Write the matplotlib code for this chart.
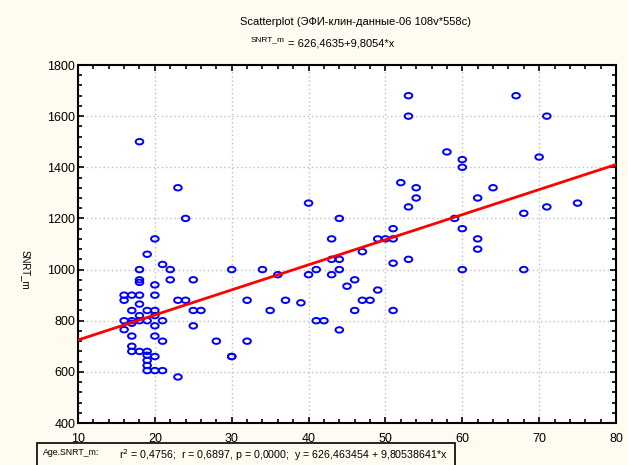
import numpy as np
import matplotlib
matplotlib.use("Agg")
import matplotlib.pyplot as plt
from matplotlib.ticker import MultipleLocator
from matplotlib.path import Path
from matplotlib.transforms import Affine2D
from matplotlib.patches import Rectangle

plt.rcParams["font.family"] = ["Liberation Sans", "DejaVu Sans"]

# Age vs SNRT_m
age = [18, 23, 24, 20, 19, 21, 18, 22, 30, 18, 18, 20, 22, 25,
       16, 16, 17, 18, 20, 18, 23, 24, 17, 19, 20, 25, 26, 18, 20,
       17, 17, 18, 19, 20, 21, 16, 16, 25, 17, 20, 21, 28, 17, 17,
       18, 19, 19, 20, 19, 30, 19, 19, 20, 21, 23,
       40, 44, 43, 49, 50, 51, 51, 47, 43, 44, 51, 34, 41, 44, 36,
       40, 43, 46, 45, 49, 32, 37, 47, 48, 35, 39, 46, 51, 41, 42,
       44, 32, 30,
       53, 67, 53, 71, 58, 60, 60, 70, 52, 54, 54, 64, 62, 53, 71,
       75, 68, 59, 60, 62, 62, 53, 60, 68]
snrt = [1500, 1320, 1200, 1120, 1060, 1020, 1000, 1000, 1000, 960, 950, 940, 960, 960,
        900, 880, 900, 900, 900, 865, 880, 880, 840, 840, 840, 840, 840, 820, 820,
        800, 790, 800, 800, 780, 800, 800, 765, 780, 740, 740, 720, 720, 700, 680,
        680, 680, 665, 660, 645, 660, 625, 605, 605, 605, 580,
        1260, 1200, 1120, 1120, 1120, 1120, 1160, 1070, 1040, 1040, 1025, 1000, 1000, 1000, 980,
        980, 980, 960, 935, 920, 880, 880, 880, 880, 840, 870, 840, 840, 800, 800,
        764, 720, 660,
        1680, 1680, 1600, 1600, 1460, 1430, 1400, 1440, 1340, 1320, 1280, 1320, 1280, 1245, 1245,
        1260, 1220, 1200, 1160, 1120, 1080, 1040, 1000, 1000]

intercept, slope = 626.4635, 9.8054
x_ticks = [10, 20, 30, 40, 50, 60, 70, 80]
y_ticks = [400, 600, 800, 1000, 1200, 1400, 1600, 1800]

bg = "#FFFBF0"
fig = plt.figure(figsize=(6.28, 4.65), dpi=100, facecolor=bg)
ax = fig.add_axes([78 / 628, 1 - 423 / 465, (616 - 78) / 628, (423 - 65) / 465])
ax.set_facecolor("white")

oval = Path.unit_circle().transformed(Affine2D().scale(1, 0.72))
ax.scatter(age, snrt, marker=oval, s=30, facecolors="none",
           edgecolors="#0000FF", linewidths=1.4, zorder=3)

xl = np.array([10, 80])
ax.plot(xl, intercept + slope * xl, color="#FF0000", lw=2, zorder=4)

ax.set_xlim(10, 80)
ax.set_ylim(400, 1800)
ax.set_xticks(x_ticks)
ax.set_yticks(y_ticks)
ax.xaxis.set_minor_locator(MultipleLocator(2))
ax.yaxis.set_minor_locator(MultipleLocator(40))
ax.tick_params(which="both", direction="in", top=True, right=True,
               labelsize=9, color="black", width=1.2)
ax.tick_params(which="major", length=4)
ax.tick_params(which="minor", length=3)
ax.tick_params(axis="x", which="major", pad=7)
ax.tick_params(axis="y", which="major", pad=2)
ax.grid(True, which="major", ls=(0, (1, 2)), color="#BFBFBF", lw=1)
for s in ax.spines.values():
    s.set_linewidth(1.5)

fig.text(25 / 628, 1 - 270 / 465, "SNRT_m", rotation=-90, fontsize=7,
         ha="center", va="center")

fig.text(356 / 628, 1 - 22 / 465, "Scatterplot (ЭФИ-клин-данные-06 108v*558c)",
         fontsize=8, ha="center", va="center")
fig.text(285 / 628, 1 - 40 / 465, "SNRT_m", fontsize=6, ha="right", va="center")
fig.text(288 / 628, 1 - 44 / 465, "= 626,4635+9,8054*x", fontsize=8,
         ha="left", va="center")

# statistics box at the bottom
fig.patches.append(Rectangle((37 / 628, -0.02), (455 - 37) / 628, 0.02 + 22 / 465,
                             transform=fig.transFigure, fill=False,
                             edgecolor="black", lw=1.2))
fig.text(43 / 628, 1 - 452 / 465, "Age.SNRT_m:", fontsize=6.3, ha="left", va="center")
fig.text(119 / 628, 1 - 455 / 465,
         "r$^2$ = 0,4756;  r = 0,6897, p = 0,0000;  y = 626,463454 + 9,80538641*x",
         fontsize=7.7, ha="left", va="center")

fig.savefig("out.png", dpi=100, facecolor=bg)
